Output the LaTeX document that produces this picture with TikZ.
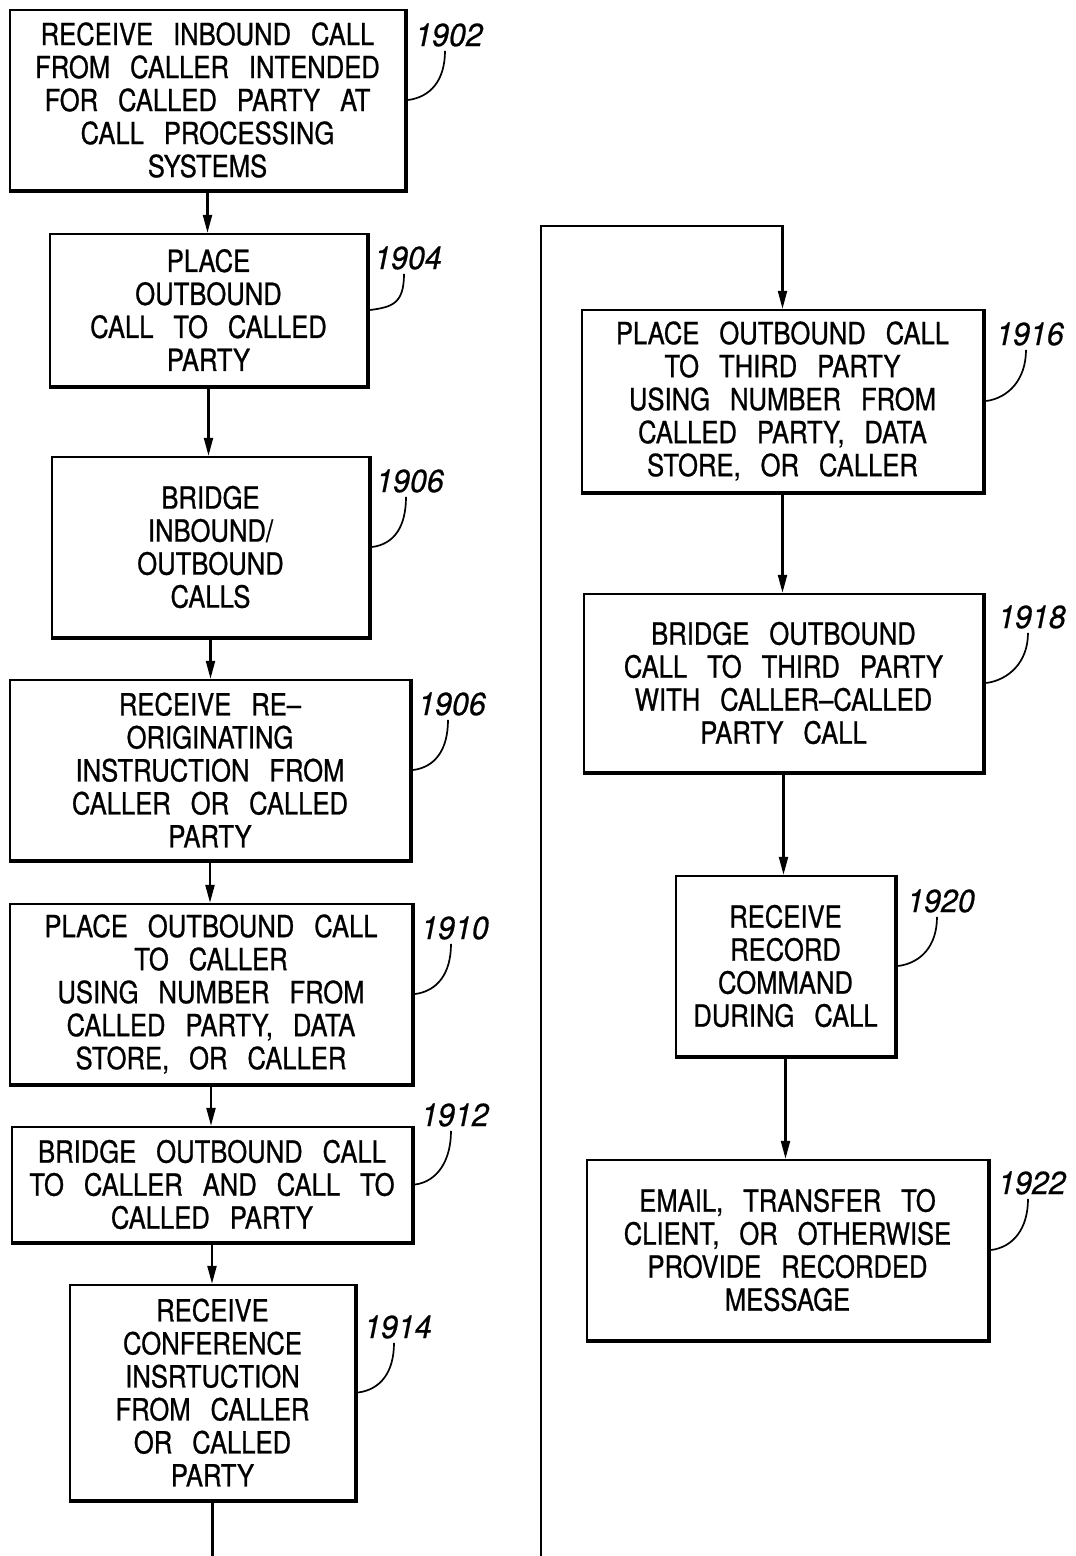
\documentclass[tikz,border=0pt]{standalone}
\usepackage{fontspec}
\setmainfont{TeX Gyre Heros}[FakeStretch=0.84, WordSpace=2.8, FakeBold=0.8]
\newfontfamily\labfont{TeX Gyre Heros}[FakeStretch=0.95, FakeBold=0.6]
\usetikzlibrary{arrows.meta}
\begin{document}
\begin{tikzpicture}[x=1pt,y=-1pt,
  box/.style={draw, line width=2.4pt, rectangle, align=center, inner sep=0pt,
    font=\fontsize{30.5}{33}\selectfont},
  lab/.style={font=\fontsize{32}{34}\selectfont\labfont\itshape, inner sep=0pt},
  leader/.style={line width=1.7pt},
  flow/.style={line width=2.2pt, -{Triangle[length=18pt,width=9pt]}},
  plain/.style={line width=2.2pt}]
\useasboundingbox (0,0) rectangle (1076,1556);
% left column
\node[box, minimum width=395pt, minimum height=180pt] (b1902) at (207.5,100)
  {RECEIVE INBOUND CALL\\FROM CALLER INTENDED\\FOR CALLED PARTY AT\\CALL PROCESSING\\SYSTEMS};
\node[box, minimum width=317pt, minimum height=152pt] (b1904) at (208.5,310)
  {PLACE\\OUTBOUND\\CALL TO CALLED\\PARTY};
\node[box, minimum width=317pt, minimum height=180pt] (b1906a) at (210.5,547)
  {BRIDGE\\INBOUND/\\OUTBOUND\\CALLS};
\node[box, minimum width=400pt, minimum height=180pt] (b1906b) at (210,770)
  {RECEIVE RE–\\ORIGINATING\\INSTRUCTION FROM\\CALLER OR CALLED\\PARTY};
\node[box, minimum width=402pt, minimum height=180pt] (b1910) at (211,994)
  {PLACE OUTBOUND CALL\\TO CALLER\\USING NUMBER FROM\\CALLED PARTY, DATA\\STORE, OR CALLER};
\node[box, minimum width=400pt, minimum height=115pt] (b1912) at (212,1184.5)
  {BRIDGE OUTBOUND CALL\\TO CALLER AND CALL TO\\CALLED PARTY};
\node[box, minimum width=285pt, minimum height=215pt] (b1914) at (212.5,1392.5)
  {RECEIVE\\CONFERENCE\\INSRTUCTION\\FROM CALLER\\OR CALLED\\PARTY};
% right column
\node[box, minimum width=401pt, minimum height=182pt] (b1916) at (782.5,401)
  {PLACE OUTBOUND CALL\\TO THIRD PARTY\\USING NUMBER FROM\\CALLED PARTY, DATA\\STORE, OR CALLER};
\node[box, minimum width=399pt, minimum height=178pt] (b1918) at (783.5,683)
  {BRIDGE OUTBOUND\\CALL TO THIRD PARTY\\WITH CALLER–CALLED\\PARTY CALL};
\node[box, minimum width=219pt, minimum height=180pt] (b1920) at (785.5,966)
  {RECEIVE\\RECORD\\COMMAND\\DURING CALL};
\node[box, minimum width=401pt, minimum height=180pt] (b1922) at (787.5,1250)
  {EMAIL, TRANSFER TO\\CLIENT, OR OTHERWISE\\PROVIDE RECORDED\\MESSAGE};
% heavier right and bottom edges
\foreach \n in {b1902,b1904,b1906a,b1906b,b1910,b1912,b1914,b1916,b1918,b1920,b1922}
  \draw[line width=4.2pt] (\n.north east) -- (\n.south east) -- (\n.south west);
% flow arrows
\foreach \a/\b in {b1902/b1904,b1904/b1906a,b1906a/b1906b,b1906b/b1910,b1910/b1912,b1912/b1914,
                   b1916/b1918,b1918/b1920,b1920/b1922}
  \draw[flow] (\a.south) -- (\a.south |- \b.north);
% continuation loop
\coordinate (bot) at (0,1556);
\coordinate (lp) at (541,1556);
\coordinate (top) at (0,226);
\draw[plain] (b1914.south) -- (b1914.south |- bot);
\draw[flow] (lp) -- (lp |- top) -| (b1916.north);
% reference labels
\node[lab] (l1902) at (449,35) {1902};
\node[lab] (l1904) at (408,258) {1904};
\node[lab] (l1906a) at (410,481) {1906};
\node[lab] (l1906b) at (452,704) {1906};
\node[lab] (l1910) at (455,928) {1910};
\node[lab] (l1912) at (455,1115) {1912};
\node[lab] (l1914) at (398,1327) {1914};
\node[lab] (l1916) at (1030,334) {1916};
\node[lab] (l1918) at (1032,617) {1918};
\node[lab] (l1920) at (941,901) {1920};
\node[lab] (l1922) at (1032,1183) {1922};
\foreach \l/\b in {l1902/b1902,l1904/b1904,l1906a/b1906a,l1906b/b1906b,l1910/b1910,l1912/b1912,
                   l1914/b1914,l1916/b1916,l1918/b1918,l1920/b1920,l1922/b1922}
  \draw[leader] ([xshift=-4pt,yshift=-4pt]\l.south) .. controls +(0,30) and +(22,-3) .. ([xshift=2pt]\b.east);
\end{tikzpicture}
\end{document}
